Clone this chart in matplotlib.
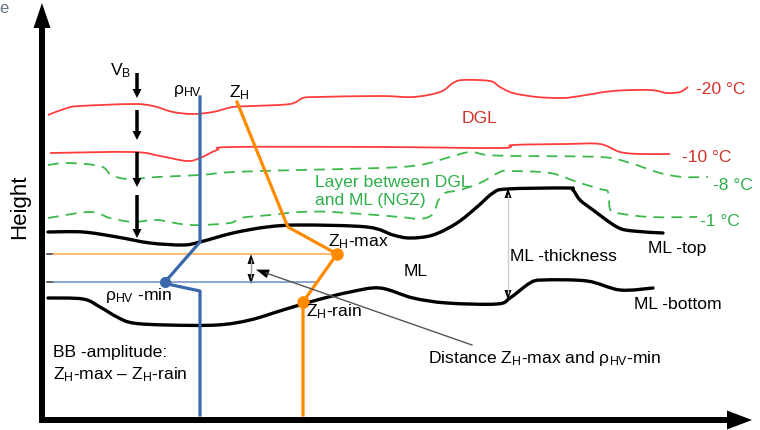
import matplotlib
matplotlib.use("Agg")
import matplotlib.pyplot as plt
from matplotlib.patches import FancyArrow, PathPatch
from matplotlib.path import Path

plt.rcParams['font.family'] = ['Liberation Sans', 'DejaVu Sans']
plt.rcParams['mathtext.fontset'] = 'custom'
plt.rcParams['mathtext.rm'] = 'Liberation Sans'
plt.rcParams['mathtext.it'] = 'Liberation Sans'

# ---------------- schematic data (pixel coordinates of the sketch) ----------------
iso20_x = [48, 67, 80, 133, 153, 173, 193, 213, 233, 253, 290, 303, 317, 380, 413, 440, 453, 463, 490, 500, 513, 537, 563, 580, 613, 650, 667, 680, 688]
iso20_y = [115, 108, 106, 104, 106, 112, 114, 112, 107, 106, 104, 98, 97, 96, 97, 92, 83, 80, 81, 87, 93, 97, 98, 96, 91, 90, 93, 92, 87]

iso10_x = [50, 133, 160, 187, 200, 217, 233, 380, 500, 513, 567, 600, 620, 640, 670]
iso10_y = [153, 152, 156, 161, 158, 150, 147, 147, 148, 145, 144, 144, 152, 154, 154]

iso8_x = [48, 67, 100, 110, 120, 133, 157, 200, 233, 300, 380, 420, 450, 470, 487, 517, 600, 627, 660, 683, 708]
iso8_y = [165, 163, 166, 174, 178, 179, 177, 175, 172, 170, 168, 165, 157, 152, 155, 156, 157, 162, 173, 177, 177]

iso1_x = [48, 90, 110, 133, 157, 190, 230, 240, 270, 300, 333, 400, 420, 433, 438, 445, 460, 480, 500, 510, 550, 577, 600, 608, 610, 617, 650, 697]
iso1_y = [218, 212, 218, 222, 220, 225, 223, 218, 215, 212, 212, 217, 219, 214, 201, 193, 190, 183, 172, 171, 173, 182, 189, 192, 209, 213, 217, 217]

mltop_x = [48, 83, 117, 150, 183, 200, 233, 267, 300, 367, 393, 410, 433, 457, 477, 493, 507, 567, 573, 580, 593, 617, 633, 663]
mltop_y = [232, 232, 237, 243, 245, 242, 233, 227, 225, 227, 235, 238, 235, 223, 207, 193, 189, 188, 190, 200, 210, 227, 231, 233]

mlbot_x = [48, 83, 100, 117, 133, 167, 217, 250, 283, 317, 350, 380, 413, 447, 497, 510, 530, 543, 587, 620, 653]
mlbot_y = [298, 299, 307, 317, 323, 325, 325, 320, 310, 300, 292, 288, 298, 303, 304, 298, 283, 280, 281, 290, 288]

rhohv_x = [200, 200, 165, 172, 200, 200]
rhohv_y = [97, 242, 282, 285, 291, 415]

zh_x = [237, 285, 288, 337, 303, 303]
zh_y = [102, 220, 227, 254, 302, 415]

zhmax_pt = (337, 254)
zhrain_pt = (303, 302)
rhomin_pt = (165, 282)

vb_arrows_y = [(73, 98), (110, 140), (152, 187), (195, 238)]
vb_x = 137

# ---------------- colours ----------------
RED = '#ff3c3c'
RED_TXT = '#d2322d'
GREEN = '#3cb94b'
GREEN_TXT = '#2eaf4a'
BLUE = '#3a68aa'
BLUE_L = '#6b8fc4'
ORANGE = '#ff8a00'
ORANGE_L = '#ffa54a'

fig = plt.figure(figsize=(7.6, 4.3), dpi=100)
ax = fig.add_axes([0, 0, 1, 1])
ax.set_xlim(0, 760)
ax.set_ylim(430, 0)
ax.axis('off')


def smooth_curve(xs, ys, **kw):
    """Draw a smooth (Catmull-Rom style Bezier) curve through the given points."""
    pts = list(zip(xs, ys))
    n = len(pts)
    verts = [pts[0]]
    codes = [Path.MOVETO]
    for i in range(n - 1):
        p0 = pts[i - 1] if i > 0 else pts[i]
        p1 = pts[i]
        p2 = pts[i + 1]
        p3 = pts[i + 2] if i + 2 < n else pts[i + 1]
        c1 = (p1[0] + (p2[0] - p0[0]) / 6.0, p1[1] + (p2[1] - p0[1]) / 6.0)
        c2 = (p2[0] - (p3[0] - p1[0]) / 6.0, p2[1] - (p3[1] - p1[1]) / 6.0)
        verts += [c1, c2, p2]
        codes += [Path.CURVE4] * 3
    ax.add_patch(PathPatch(Path(verts, codes), fill=False, **kw))


# axes arrows
ax.add_patch(FancyArrow(42, 423, 0, -420, width=6, head_width=17, head_length=25,
                        length_includes_head=True, color='black', lw=0))
ax.add_patch(FancyArrow(39, 420, 713, 0, width=6, head_width=19, head_length=25,
                        length_includes_head=True, color='black', lw=0))

# isotherms
smooth_curve(iso20_x, iso20_y, edgecolor=RED, lw=1.3)
smooth_curve(iso10_x, iso10_y, edgecolor=RED, lw=1.3)
smooth_curve(iso8_x, iso8_y, edgecolor=GREEN, lw=1.3, linestyle=(0, (6, 4)))
smooth_curve(iso1_x, iso1_y, edgecolor=GREEN, lw=1.3, linestyle=(0, (6, 4)))

# melting layer boundaries
smooth_curve(mltop_x, mltop_y, edgecolor='black', lw=2.4, capstyle='round')
smooth_curve(mlbot_x, mlbot_y, edgecolor='black', lw=2.4, capstyle='round')

# thin reference lines
ax.plot([47, 53], [zhmax_pt[1], zhmax_pt[1]], color='#444444', lw=1.2)
ax.plot([47, 53], [rhomin_pt[1], rhomin_pt[1]], color='#444444', lw=1.2)
ax.plot([53, zhmax_pt[0]], [zhmax_pt[1], zhmax_pt[1]], color=ORANGE_L, lw=1.1)
ax.plot([53, 317], [rhomin_pt[1], rhomin_pt[1]], color=BLUE_L, lw=1.1)

# profiles
ax.plot(rhohv_x, rhohv_y, color=BLUE, lw=2.3)
ax.plot(zh_x, zh_y, color=ORANGE, lw=2.3)
ax.plot(*rhomin_pt, 'o', color=BLUE, ms=7)
ax.plot(*zhmax_pt, 'o', color=ORANGE, ms=8)
ax.plot(*zhrain_pt, 'o', color=ORANGE, ms=8)

# V_B arrows
for y0, y1 in vb_arrows_y:
    ax.add_patch(FancyArrow(vb_x, y0, 0, y1 - y0, width=3.5, head_width=9, head_length=9,
                            length_includes_head=True, color='black', lw=0))

# ML-thickness arrow
ax.plot([508, 508], [195, 293], color='#cfcfcf', lw=1.0)
ax.add_patch(FancyArrow(508, 198, 0, -10, width=0.1, head_width=7, head_length=10,
                        length_includes_head=True, color='black', lw=0))
ax.add_patch(FancyArrow(508, 290, 0, 10, width=0.1, head_width=7, head_length=10,
                        length_includes_head=True, color='black', lw=0))

# distance double arrow
ax.plot([251, 251], [260, 277], color='#999999', lw=1.0)
ax.add_patch(FancyArrow(251, 264, 0, -10, width=0.1, head_width=7, head_length=10,
                        length_includes_head=True, color='black', lw=0))
ax.add_patch(FancyArrow(251, 274, 0, 10, width=0.1, head_width=7, head_length=10,
                        length_includes_head=True, color='black', lw=0))

# pointer to the distance
ax.plot([472, 266], [345, 273], color='#555555', lw=1.0)
ax.add_patch(FancyArrow(268, 273.8, -12, -4.2, width=0.1, head_width=9, head_length=13,
                        length_includes_head=True, color='black', lw=0))

# ---------------- texts ----------------
FS = 12.6
ZH = r'$\mathregular{Z_H}$'
RHO = r'$\mathregular{ρ_{HV}}$'


def txt(x, y, s, color='black', fs=FS, **kw):
    ax.text(x, y, s, color=color, fontsize=fs, ha='left', va='baseline', **kw)


txt(-1, 13, 'e', color='#6a7580', fs=12)
ax.text(20, 207, 'Height', rotation=90, fontsize=16, ha='center', va='center')

txt(110, 75, r'$\mathregular{V_B}$')
txt(173, 94, RHO)
txt(229, 97, ZH)

txt(696, 94, '-20 °C', color=RED_TXT)
txt(462, 123, 'DGL', color=RED_TXT)
txt(682, 162, '-10 °C', color=RED_TXT)
txt(713, 190, '-8 °C', color=GREEN_TXT)
txt(700, 226, '-1 °C', color=GREEN_TXT)
txt(315, 187, 'Layer between DGL', color=GREEN_TXT)
txt(315, 205, 'and ML (NGZ)', color=GREEN_TXT)

txt(648, 253, 'ML -top')
txt(510, 261, 'ML -thickness')
txt(404, 276, 'ML')
txt(634, 309, 'ML -bottom')

txt(328, 246, ZH + '-max')
txt(105, 300, RHO + ' -min')
txt(306, 316, ZH + '-rain')
txt(53, 357, 'BB -amplitude:')
txt(53, 379, ZH + '-max ' + '\u2013' + ' ' + ZH + '-rain')
txt(428, 363, 'Distance ' + ZH + '-max and ' + RHO + '-min')

fig.savefig('out.png', dpi=100)
